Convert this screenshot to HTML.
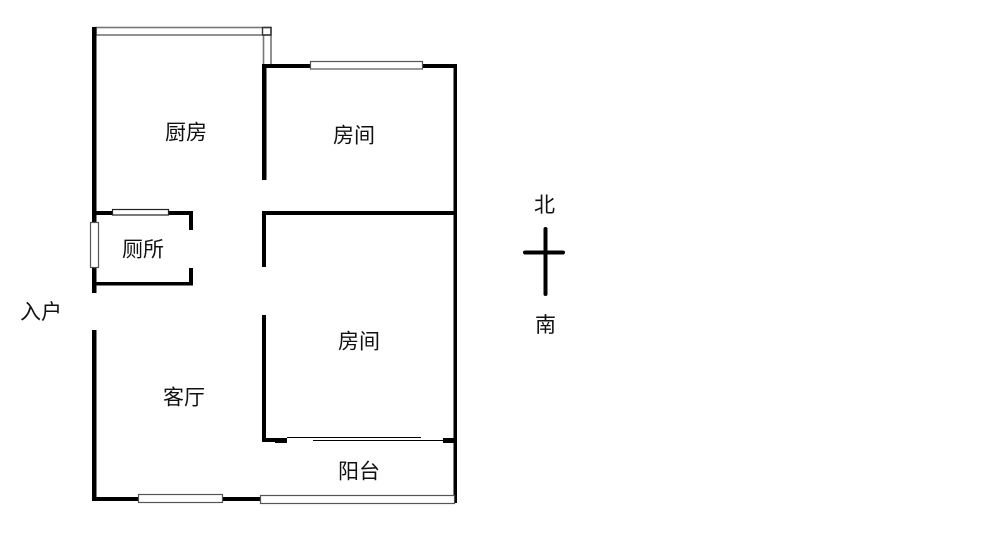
<!DOCTYPE html>
<html>
<head>
<meta charset="utf-8">
<style>
html,body{margin:0;padding:0;background:#fff}
body{width:1000px;height:538px;overflow:hidden;position:relative}
svg{position:absolute;left:0;top:0}
text{font-family:"Liberation Sans","Noto Sans CJK SC",sans-serif;fill:#111;font-size:21px}
</style>
</head>
<body>
<svg width="1000" height="538" viewBox="0 0 1000 538" xmlns="http://www.w3.org/2000/svg">
<rect width="1000" height="538" fill="#fff"/>
<g fill="none" stroke="#777" stroke-width="1.6">
<rect x="96" y="27.5" width="175" height="7.5"/>
<path d="M263.5 35V65M271 35V65"/>
</g>
<rect x="262.5" y="27.5" width="8.5" height="7.5" fill="none" stroke="#333" stroke-width="1.4"/>
<g fill="#000">
<rect x="92" y="27" width="4.5" height="266"/>
<rect x="92" y="330" width="4.5" height="171"/>
<rect x="92" y="497" width="170" height="4"/>
<rect x="262" y="64" width="4.5" height="116"/>
<rect x="262" y="64" width="195" height="4"/>
<rect x="453.5" y="64" width="3.5" height="439"/>
<rect x="262" y="211" width="195" height="4"/>
<rect x="262" y="211" width="4" height="56"/>
<rect x="262" y="315" width="4" height="127"/>
<rect x="262" y="438" width="25" height="4"/>
<rect x="275" y="438" width="12" height="5"/>
<rect x="443" y="438" width="12" height="5"/>
<rect x="94" y="211" width="98" height="4"/>
<rect x="189" y="211" width="4" height="19"/>
<rect x="189" y="268" width="4" height="17"/>
<rect x="94" y="282" width="99" height="3.5"/>
<rect x="287" y="437" width="134" height="1"/>
<rect x="313" y="440" width="131" height="1"/>
</g>
<g fill="#fff" stroke="#555" stroke-width="1.2">
<rect x="310.5" y="61.5" width="112" height="7.5"/>
<rect x="138.5" y="494.5" width="84" height="8"/>
<rect x="260.5" y="495.5" width="194" height="8"/>
<rect x="90.5" y="222.5" width="8" height="45"/>
</g>
<rect x="112.5" y="209.5" width="56" height="5.5" fill="#fff" stroke="#222" stroke-width="1.2"/>
<g stroke="#000" stroke-linecap="round" fill="none">
<path d="M545.5 229V294" stroke-width="4"/>
<path d="M525 252.5H563" stroke-width="4"/>
</g>
<text x="165" y="139.5">厨房</text>
<text x="333" y="142.5">房间</text>
<text x="122" y="256.5">厕所</text>
<text x="338" y="348.5">房间</text>
<text x="163" y="404.5">客厅</text>
<text x="338" y="478.5">阳台</text>
<text x="20" y="319">入户</text>
<text x="534" y="212">北</text>
<text x="535" y="332">南</text>
</svg>
</body>
</html>
